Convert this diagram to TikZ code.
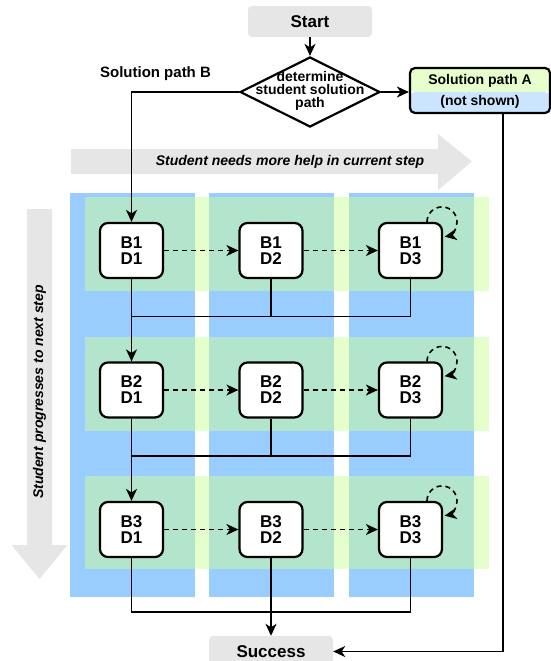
\documentclass[tikz,border=0pt]{standalone}
\usepackage{fontspec}
\setmainfont{Liberation Sans}
\usetikzlibrary{shapes.geometric,arrows.meta,calc}
\definecolor{colblue}{HTML}{99CCFF}
\definecolor{colband}{HTML}{CCFF99}
\definecolor{colgray}{HTML}{E6E6E6}
\definecolor{solgreen}{HTML}{E6FFCC}
\definecolor{solblue}{HTML}{CCE5FF}
\begin{document}
\begin{tikzpicture}[x=1pt,y=1pt,
  tip/.style={-{Stealth[length=12pt,width=11pt,inset=3.5pt]}},
  conn/.style={line width=1.6pt},
  dashconn/.style={line width=1.6pt,dash pattern=on 5pt off 4pt,tip},
  cell/.style={draw,line width=2.2pt,fill=white,rounded corners=8pt,minimum width=63pt,minimum height=55pt,inner sep=0pt,align=center,font=\fontsize{17}{16}\selectfont\bfseries},
  term/.style={fill=colgray,rounded corners=4pt,minimum width=124pt,minimum height=31pt,inner sep=0pt,font=\fontsize{17}{19}\selectfont\bfseries},
  lbl/.style={inner sep=0pt,font=\fontsize{14}{13}\selectfont\bfseries,align=center},
  hint/.style={inner sep=0pt,font=\fontsize{14}{16}\selectfont\bfseries\itshape}
]
\useasboundingbox (0,0) rectangle (551,-661);
% columns
\fill[colblue] (70,-193) rectangle (195,-597);
\fill[colblue] (209,-193) rectangle (334,-597);
\fill[colblue] (349,-193) rectangle (474,-597);
% bands
\fill[colband,fill opacity=0.5] (85,-197) rectangle (489,-291);
\fill[colband,fill opacity=0.5] (85,-337) rectangle (489,-431);
\fill[colband,fill opacity=0.5] (85,-476) rectangle (489,-569);
% gray arrows
\fill[colgray] (71,-149) -- (438,-149) -- (438,-134) -- (472,-161.5) -- (438,-190) -- (438,-174) -- (71,-174) -- cycle;
\node[hint] (hhelp) at (290,-161.5) {Student needs more help in current step};
\fill[colgray] (27,-209) -- (52,-209) -- (52,-545) -- (67.5,-545) -- (39.5,-579) -- (11.5,-545) -- (27,-545) -- cycle;
\node[hint,rotate=90] (hprog) at (39.5,-392) {Student progresses to next step};
% top part
\node[term] (start) at (310,-21.5) {Start};
\node[diamond,draw,line width=2.2pt,fill=white,minimum width=140pt,minimum height=70pt,inner sep=0pt] (dec) at (310,-92) {};
\node[lbl] (dectext) at (310,-91) {determine\\student solution\\path};
\node[inner sep=0pt,font=\fontsize{15}{17}\selectfont\bfseries] (pathB) at (155.5,-74) {Solution path B};
\node[draw,line width=2.2pt,rounded corners=5pt,minimum width=140pt,minimum height=45pt,inner sep=0pt,
  path picture={
    \fill[solgreen] (path picture bounding box.north west) rectangle ([yshift=-24pt]path picture bounding box.north east);
    \fill[solblue] ([yshift=-24pt]path picture bounding box.north west) rectangle (path picture bounding box.south east);
  }] (solA) at (480,-90.5) {};
\node[lbl] (solAt) at (480,-81) {Solution path A};
\node[lbl] (solAb) at (480,-101.5) {(not shown)};
% cells
\node[cell] (b11) at (131.5,-250.5) {B1\\D1};
\node[cell] (b12) at (271,-250.5) {B1\\D2};
\node[cell] (b13) at (410.5,-250.5) {B1\\D3};
\node[cell] (b21) at (131.5,-390) {B2\\D1};
\node[cell] (b22) at (271,-390) {B2\\D2};
\node[cell] (b23) at (410.5,-390) {B2\\D3};
\node[cell] (b31) at (131.5,-529.5) {B3\\D1};
\node[cell] (b32) at (271,-529.5) {B3\\D2};
\node[cell] (b33) at (410.5,-529.5) {B3\\D3};
\node[term] (success) at (271,-651.5) {Success};
% junctions
\coordinate (j1) at (131.5,-316.5);
\coordinate (j2) at (131.5,-456);
\coordinate (j3) at (271,-612);
\coordinate (aout) at (503,-113);
% connectors
\draw[conn,tip] (start) -- (dec);
\draw[conn,tip] (dec.west) -| (b11.north);
\draw[conn,tip] (dec.east) -- (dec.east -| solA.west);
\draw[conn,tip] (aout) |- (success.east);
\foreach \r in {1,2,3}{
  \draw[dashconn] (b\r1) -- (b\r2);
  \draw[dashconn] (b\r2) -- (b\r3);
  \draw[line width=1.6pt,dash pattern=on 5pt off 4pt,tip] ([xshift=16.5pt]b\r3.north) arc[start angle=180,end angle=-80,radius=15pt];
}
\draw[conn,tip] (b11.south) -- (b21.north);
\draw[conn] (b12.south) |- (j1);
\draw[conn] (b13.south) |- (j1);
\draw[conn,tip] (b21.south) -- (b31.north);
\draw[conn] (b22.south) |- (j2);
\draw[conn] (b23.south) |- (j2);
\draw[conn] (b31.south) |- (j3);
\draw[conn] (b33.south) |- (j3);
\draw[conn,tip] (b32.south) -- (success.north);
\end{tikzpicture}
\end{document}
